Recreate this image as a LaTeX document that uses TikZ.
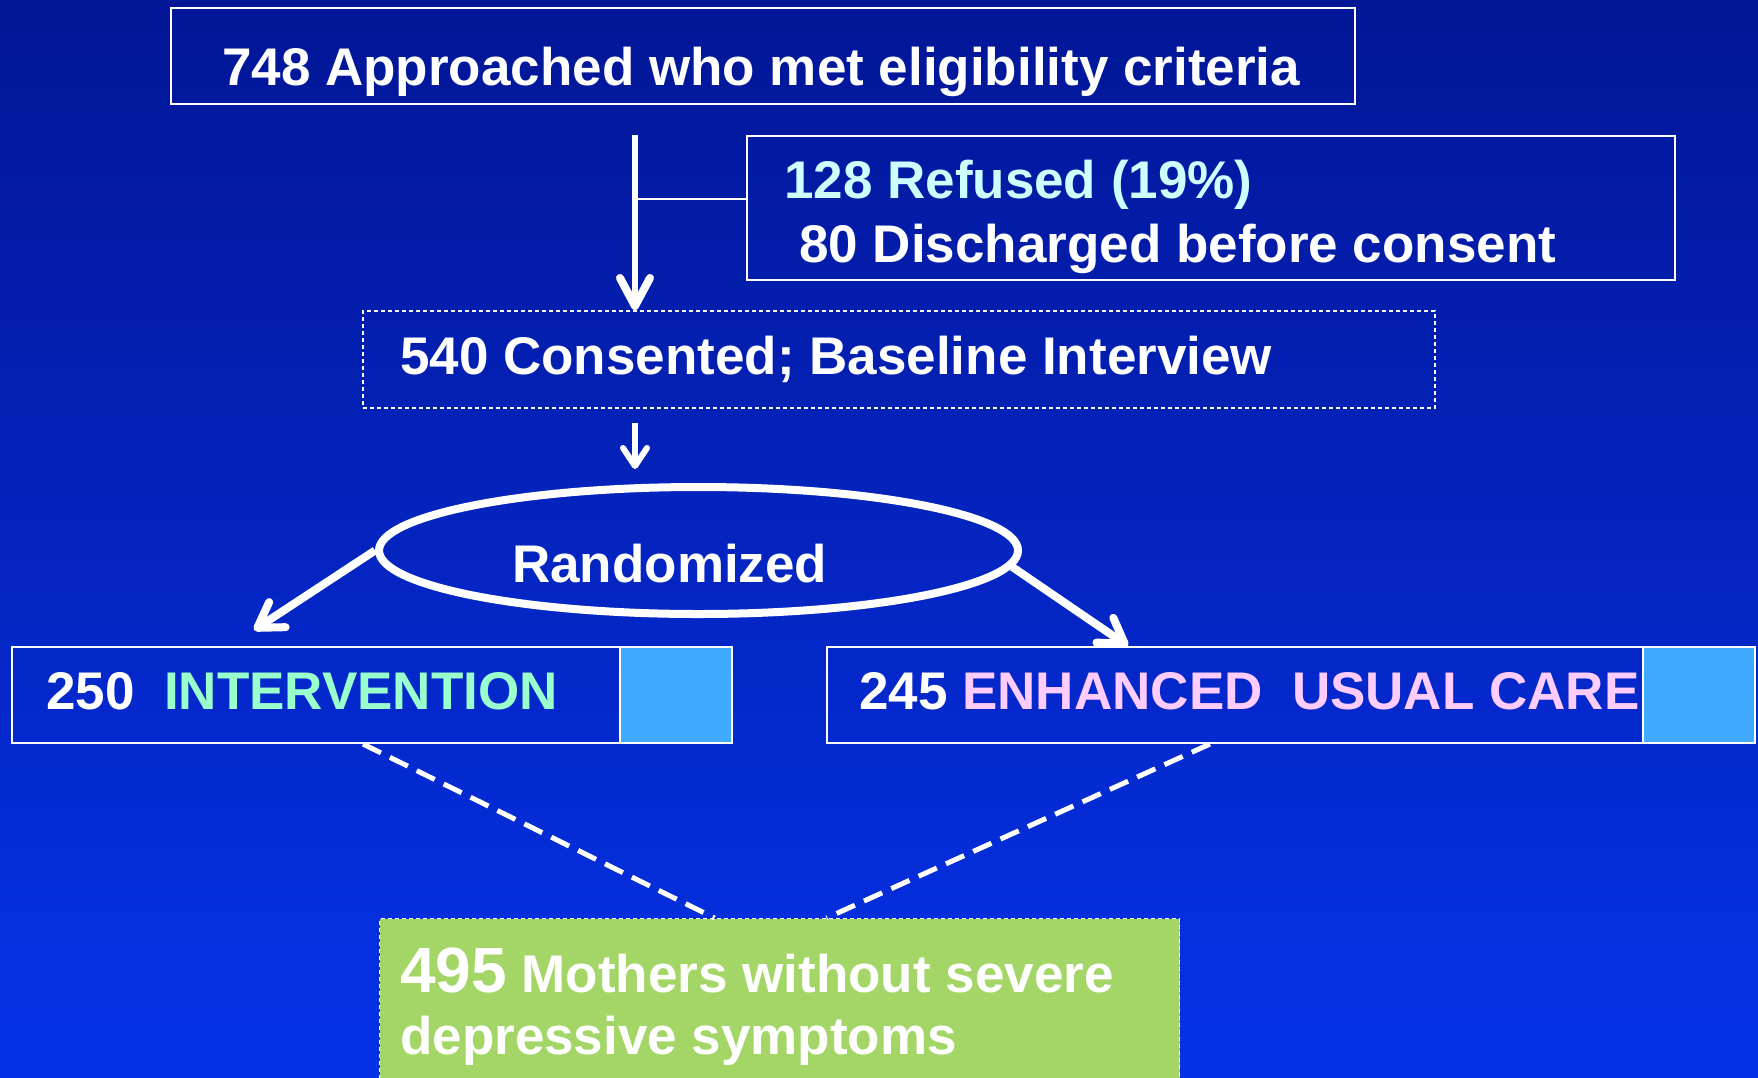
\documentclass[tikz,border=0pt]{standalone}
\usepackage{fontspec}
\setmainfont{Liberation Sans}
\usetikzlibrary{shapes.geometric,arrows.meta}
\definecolor{bgtop}{RGB}{2,22,150}
\definecolor{bgmid}{RGB}{4,38,205}
\definecolor{bgbot}{RGB}{5,50,232}
\definecolor{sqblue}{RGB}{64,170,255}
\definecolor{boxgreen}{RGB}{163,214,102}
\definecolor{cyantxt}{RGB}{204,255,255}
\definecolor{greentxt}{RGB}{153,255,204}
\definecolor{pinktxt}{RGB}{255,204,255}
\begin{document}
\begin{tikzpicture}[x=1pt,y=-1pt,
  box/.style={draw=white, line width=2pt, rectangle, inner sep=0pt, anchor=north west},
  dottedbox/.style={draw=white, line width=1.5pt, dash pattern=on 4pt off 3pt, rectangle, inner sep=0pt, anchor=north west},
  swatch/.style={draw=white, line width=2pt, fill=sqblue, rectangle, inner sep=0pt, anchor=north west},
  lbl/.style={anchor=base west, inner sep=0pt, text=white, font=\fontsize{53}{64}\selectfont\bfseries},
  trunkarrow/.style={draw=white, line width=6pt, -{Straight Barb[round, length=28pt, width=30pt, line width=8pt]}},
  splitarrow/.style={draw=white, line width=8pt, -{Straight Barb[round, length=24pt, width=30pt]}},
  thinarrow/.style={draw=white, line width=5.5pt, -{Straight Barb[round, length=18pt, width=24pt, line width=6pt]}},
  thickdash/.style={draw=white, line width=5pt, dash pattern=on 20pt off 10pt}]

% page and background
\clip (0,0) rectangle (1758,1077);
\shade[top color=bgtop, middle color=bgmid, bottom color=bgbot] (0,0) rectangle (1758,1077);

% boxes
\node[box, minimum width=1184, minimum height=96] (top) at (170,7) {};
\node[box, minimum width=928, minimum height=144] (ref) at (746,135) {};
\node[dottedbox, minimum width=1072, minimum height=97] (cons) at (362,310) {};
\node[draw=white, line width=8pt, ellipse, inner sep=0pt, minimum width=639, minimum height=127] (rand) at (698.5,550.5) {};
\node[box, minimum width=720, minimum height=96] (int) at (11,646) {};
\node[swatch, minimum width=112, minimum height=96] (intsq) at (619,646) {};
\node[box, minimum width=928, minimum height=96] (enh) at (826,646) {};
\node[swatch, minimum width=112, minimum height=96] (enhsq) at (1642,646) {};
\node[dottedbox, fill=boxgreen, line width=1.2pt, minimum width=800, minimum height=190] (grn) at (379,918) {};

% texts
\node[lbl] (ttop) at (222,85) {748 Approached who met eligibility criteria};
\node[lbl, text=cyantxt] (tref) at (784,198) {128 Refused (19\%)};
\node[lbl] (tdis) at (799,262) {80 Discharged before consent};
\node[lbl] (tcons) at (400,374) {540 Consented; Baseline Interview};
\node[lbl] (trand) at (512,582) {Randomized};
\node[lbl] (tint) at (46,709) {250\ \ \textcolor{greentxt}{INTERVENTION}};
\node[lbl] (tenh) at (859,709) {245 \textcolor{pinktxt}{ENHANCED\ \ USUAL CARE}};
\node[lbl] (tgrn1) at (400,992) {{\fontsize{64}{70}\selectfont 495} Mothers without severe};
\node[lbl] (tgrn2) at (400,1054) {depressive symptoms};

% connectors
\coordinate (trunktop) at (635,135);
\coordinate (junction) at (635,199);
\coordinate (smalltop) at (635,423);
\coordinate (smalltip) at (635,469);
\draw[trunkarrow] (trunktop) -- (trunktop |- cons.north);
\draw[draw=white, line width=2pt] (ref.west |- junction) -- (junction);
\draw[thinarrow] (smalltop) -- (smalltip);
\draw[splitarrow] (rand.west) -- ([xshift=-118pt,yshift=16pt]int.north);
\draw[splitarrow] (rand.-3) -- ([xshift=-163pt]enh.north);
\draw[thickdash] ([xshift=-9pt]int.south) -- ([xshift=-65pt]grn.north);
\draw[thickdash] ([xshift=-81pt]enh.south) -- ([xshift=47pt]grn.north);
\end{tikzpicture}
\end{document}
